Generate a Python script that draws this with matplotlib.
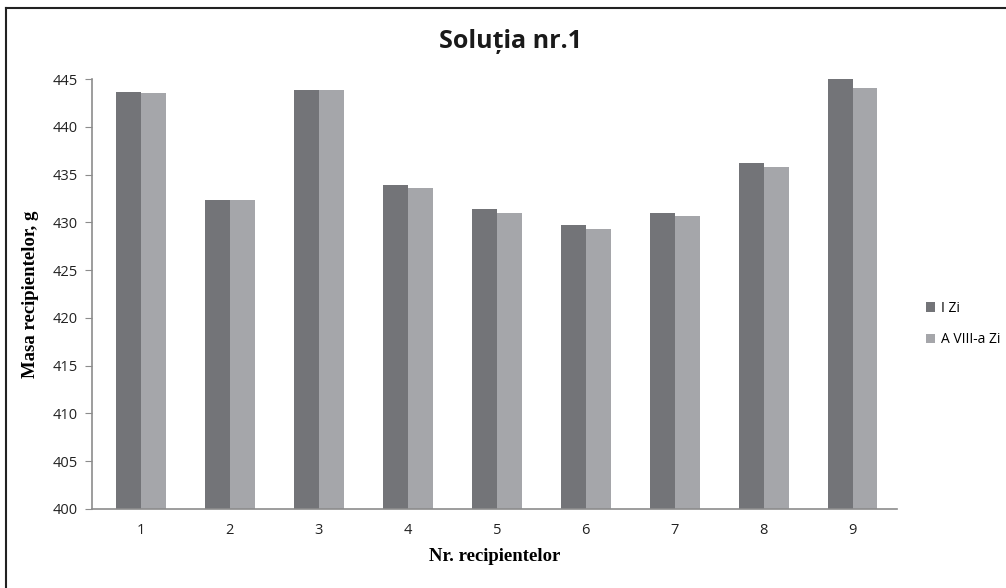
import numpy as np
import matplotlib.pyplot as plt
from matplotlib.lines import Line2D

# data
recipients = ['1', '2', '3', '4', '5', '6', '7', '8', '9']
day1 = [443.6, 432.3, 443.9, 433.9, 431.4, 429.7, 431.0, 436.2, 445.0]
day8 = [443.5, 432.3, 443.8, 433.6, 431.0, 429.3, 430.7, 435.8, 444.1]
series_names = ['I Zi', 'A VIII-a Zi']

dark = '#737478'
light = '#a5a6aa'
axis_grey = '#8c8c8c'

fig = plt.figure(figsize=(10.06, 5.88), dpi=100)
ax = fig.add_axes([0.0915, 0.1344, 0.8002, 0.7312])

x = np.arange(1, len(recipients) + 1)
w = 0.28
ax.bar(x - w / 2, day1, width=w, color=dark, label=series_names[0])
ax.bar(x + w / 2, day8, width=w, color=light, label=series_names[1])

ax.set_xlim(0.45, 9.5)
ax.set_ylim(400, 445)
ax.set_yticks(np.arange(400, 446, 5))
ax.set_xticks(x)
ax.set_xticklabels(recipients)

for s in ['top', 'right']:
    ax.spines[s].set_visible(False)
for s in ['left', 'bottom']:
    ax.spines[s].set_color(axis_grey)
    ax.spines[s].set_linewidth(1.2)
ax.tick_params(axis='y', length=5, color=axis_grey, labelsize=10.5, pad=5, labelcolor='#222222')
ax.tick_params(axis='x', length=0, labelsize=10.5, pad=10, labelcolor='#222222')
for lab in ax.get_xticklabels() + ax.get_yticklabels():
    lab.set_family('Open Sans')

ax.set_xlabel('Nr. recipientelor', family='Liberation Serif', fontweight='bold',
              fontsize=13.5, labelpad=7)
ax.set_ylabel('Masa recipientelor, g', family='Liberation Serif', fontweight='bold',
              fontsize=13.5, labelpad=10)

fig.text(0.507, 0.93, 'Soluția nr.1', family='Open Sans', fontweight='bold',
         fontsize=18, ha='center', va='center', color='#1a1a1a')

ax.legend(loc='center left', bbox_to_anchor=(1.02, 0.43), frameon=False,
          prop={'family': 'Open Sans', 'size': 10}, handlelength=0.7,
          handleheight=0.7, handletextpad=0.4, labelspacing=1.2)

# outer chart frame (top and left visible)
fig.add_artist(Line2D([0.006, 1.0], [0.986, 0.986], color='#222222', lw=1.5,
                      transform=fig.transFigure))
fig.add_artist(Line2D([0.006, 0.006], [0.0, 0.986], color='#222222', lw=1.5,
                      transform=fig.transFigure))

fig.savefig('out.png', dpi=100)
